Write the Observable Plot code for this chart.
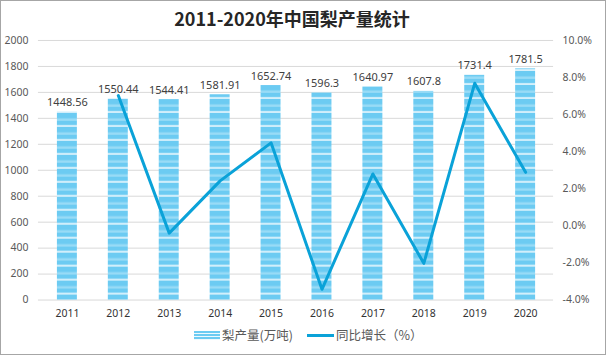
<!DOCTYPE html>
<html><head><meta charset="utf-8">
<script src="https://cdn.jsdelivr.net/npm/d3@7"></script>
<script src="https://cdn.jsdelivr.net/npm/@observablehq/plot@0.6"></script>
<style>
body{margin:0;background:#fff;}
#wrap{position:relative;width:606px;height:355px;box-sizing:border-box;border:1px solid #a6a6a6;background:#fff;overflow:hidden;font-family:"Noto Sans","Noto Sans CJK SC",sans-serif;}
#title{position:absolute;top:4px;left:0;width:582px;text-align:center;font-weight:bold;font-size:18px;font-family:"Noto Sans CJK SC",sans-serif;color:#262626;line-height:26px;}
#chart{position:absolute;top:29px;left:-1px;}
.lg{position:absolute;font-size:12.5px;color:#595959;font-family:"Noto Sans CJK SC",sans-serif;line-height:16px;}
#sw1{position:absolute;left:193px;top:330px;width:26px;height:9px;background:repeating-linear-gradient(to bottom,#6ccbf2 0px,#6ccbf2 2px,#eef9fe 2px,#eef9fe 3px);}
#sw2{position:absolute;left:306px;top:333px;width:27px;height:3px;background:#0aa2d8;}
</style></head>
<body>
<div id="wrap">
  <div id="title">2011-2020年中国梨产量统计</div>
  <div id="chart"></div>
  <div id="sw1"></div><div class="lg" style="left:221px;top:326px;">梨产量(万吨)</div>
  <div id="sw2"></div><div class="lg" style="left:335px;top:326px;">同比增长（%）</div>
</div>
<script>
const years = ["2011","2012","2013","2014","2015","2016","2017","2018","2019","2020"];
const output = [1448.56,1550.44,1544.41,1581.91,1652.74,1596.3,1640.97,1607.8,1731.4,1781.5];
const growthYears = ["2012","2013","2014","2015","2016","2017","2018","2019","2020"];
const growth = [7.03,-0.39,2.43,4.48,-3.42,2.80,-2.02,7.69,2.89];
const leftTicks = [0,200,400,600,800,1000,1200,1400,1600,1800,2000];
const rightTicks = [-4,-2,0,2,4,6,8,10];
const rightLabels = ["-4.0%","-2.0%","0.0%","2.0%","4.0%","6.0%","8.0%","10.0%"];

const rMin = -4, rMax = 10, lMax = 2000;
const toLeft = p => (p - rMin) / (rMax - rMin) * lMax;

const bars = years.map((y,i) => ({year:y, value:output[i]}));
const line = growthYears.map((y,i) => ({year:y, g:growth[i]}));

const font = "'Noto Sans','Noto Sans CJK SC',sans-serif";
const chart = Plot.plot({
  width:606, height:290,
  marginLeft:38, marginRight:52, marginTop:10, marginBottom:20,
  style:{fontFamily:font, fontSize:"10.5px", background:"transparent", overflow:"visible"},
  x:{domain:years, paddingInner:0.612, paddingOuter:0.306},
  y:{domain:[0,lMax]},
  marks:[
    Plot.ruleY(leftTicks,{stroke:"#d9d9d9", strokeWidth:1}),
    Plot.barY(bars,{x:"year", y:"value", fill:"url(#stripes)"}),
    Plot.text(bars,{x:"year", y:"value", text:d=>String(d.value), lineAnchor:"bottom", dy:-6, fill:"#404040", fontSize:11}),
    Plot.line(line,{x:"year", y:d=>toLeft(d.g), stroke:"#0aa2d8", strokeWidth:3}),
    Plot.axisY({anchor:"left", ticks:leftTicks, tickFormat:d=>String(d), tickSize:0, tickPadding:10, fill:"#595959", label:null}),
    Plot.axisY({anchor:"right", ticks:rightTicks.map(toLeft), tickFormat:(v,i)=>rightLabels[i], tickSize:0, tickPadding:9, fill:"#595959", label:null}),
    Plot.axisX({tickSize:0, tickPadding:10, fill:"#333", label:null})
  ]
});
d3.select(chart).insert("defs",":first-child").html(
  `<pattern id="stripes" patternUnits="userSpaceOnUse" width="10" height="14">
     <rect width="10" height="14" fill="#6ccbf2"/>
     <rect y="4.5" width="10" height="2.5" fill="#98dbf6"/>
     <rect y="11.3" width="10" height="1.6" fill="#eef9fe"/>
   </pattern>`);
document.getElementById("chart").appendChild(chart);
</script>
</body></html>
